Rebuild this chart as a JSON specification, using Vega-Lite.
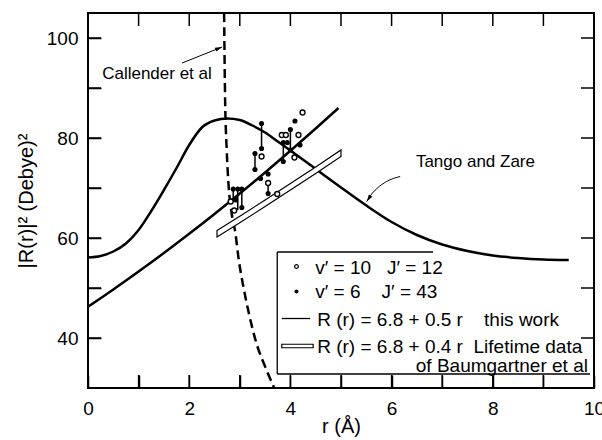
{
  "$schema": "https://vega.github.io/schema/vega-lite/v6.json",
  "width": 506,
  "height": 375,
  "autosize": "none",
  "padding": {"left": 88, "top": 13, "right": 8, "bottom": 52},
  "background": "white",
  "config": {
    "view": {"stroke": "black", "strokeWidth": 2},
    "axis": {
      "domain": false, "grid": false,
      "labelFont": "Liberation Sans", "labelFontSize": 19, "labelColor": "black",
      "titleFont": "Liberation Sans", "titleFontSize": 20, "titleFontWeight": "normal", "titleColor": "black"
    }
  },
  "datasets": {
    "callender": [
      {"r": 2.69, "v": 105}, {"r": 2.70, "v": 95}, {"r": 2.71, "v": 87.6}, {"r": 2.74, "v": 78},
      {"r": 2.78, "v": 70.3}, {"r": 2.83, "v": 65.5}, {"r": 2.91, "v": 61.2}, {"r": 2.98, "v": 55.6},
      {"r": 3.07, "v": 50.3}, {"r": 3.18, "v": 44.9}, {"r": 3.33, "v": 38.9}, {"r": 3.50, "v": 34.3},
      {"r": 3.68, "v": 30}
    ],
    "tango": [
      {"r": 0, "v": 56.1}, {"r": 0.25, "v": 56.4}, {"r": 0.5, "v": 57.3}, {"r": 0.75, "v": 58.9},
      {"r": 1.0, "v": 61.6}, {"r": 1.25, "v": 65.4}, {"r": 1.5, "v": 69.6}, {"r": 1.75, "v": 74.0},
      {"r": 2.0, "v": 78.6}, {"r": 2.25, "v": 82.1}, {"r": 2.5, "v": 83.5}, {"r": 2.75, "v": 83.9},
      {"r": 3.0, "v": 83.6}, {"r": 3.25, "v": 82.5}, {"r": 3.5, "v": 81.1}, {"r": 3.75, "v": 79.3},
      {"r": 4.0, "v": 77.5}, {"r": 4.5, "v": 73.8}, {"r": 5.0, "v": 70.1}, {"r": 5.5, "v": 66.5},
      {"r": 6.0, "v": 63.2}, {"r": 6.5, "v": 60.6}, {"r": 7.0, "v": 58.7}, {"r": 7.5, "v": 57.4},
      {"r": 8.0, "v": 56.5}, {"r": 8.5, "v": 56.0}, {"r": 9.0, "v": 55.7}, {"r": 9.5, "v": 55.6}
    ],
    "thiswork": [
      {"r": 0, "v": 46.24}, {"r": 0.5, "v": 49.70}, {"r": 1.0, "v": 53.29}, {"r": 1.5, "v": 57.00},
      {"r": 2.0, "v": 60.84}, {"r": 2.5, "v": 64.80}, {"r": 3.0, "v": 68.89}, {"r": 3.5, "v": 73.10},
      {"r": 4.0, "v": 77.44}, {"r": 4.5, "v": 81.90}, {"r": 4.95, "v": 86.0}
    ],
    "band": [
      {"r": 2.55, "lo": 60.2, "hi": 61.5}, {"r": 3.0, "lo": 63.05, "hi": 64.35},
      {"r": 3.5, "lo": 66.3, "hi": 67.6}, {"r": 4.0, "lo": 69.6, "hi": 70.9},
      {"r": 4.5, "lo": 72.9, "hi": 74.2}, {"r": 5.0, "lo": 76.3, "hi": 77.6}
    ],
    "segs": [
      {"r": 3.43, "v1": 82.9, "v2": 77.9}, {"r": 3.30, "v1": 76.9, "v2": 73.7},
      {"r": 4.0, "v1": 81.7, "v2": 77.6}, {"r": 3.86, "v1": 79.1, "v2": 75.3},
      {"r": 3.56, "v1": 71.0, "v2": 68.9}, {"r": 2.87, "v1": 69.8, "v2": 67.4},
      {"r": 2.96, "v1": 69.8, "v2": 65.6}, {"r": 3.04, "v1": 69.8, "v2": 66.1}
    ],
    "filled": [
      {"r": 4.09, "v": 83.4}, {"r": 4.0, "v": 81.7}, {"r": 4.0, "v": 77.6}, {"r": 3.43, "v": 82.9},
      {"r": 3.43, "v": 77.9}, {"r": 3.30, "v": 76.9}, {"r": 3.30, "v": 73.7}, {"r": 3.86, "v": 79.1},
      {"r": 3.86, "v": 75.3}, {"r": 3.94, "v": 79.1}, {"r": 4.19, "v": 78.6}, {"r": 3.41, "v": 71.9},
      {"r": 3.56, "v": 72.8}, {"r": 3.56, "v": 68.9}, {"r": 2.87, "v": 69.8}, {"r": 2.96, "v": 69.8},
      {"r": 3.04, "v": 69.8}, {"r": 2.92, "v": 67.6}, {"r": 3.04, "v": 66.1}
    ],
    "open": [
      {"r": 4.24, "v": 85.1}, {"r": 4.16, "v": 80.6}, {"r": 3.83, "v": 80.6}, {"r": 3.91, "v": 80.6},
      {"r": 4.08, "v": 76.1}, {"r": 3.43, "v": 76.3}, {"r": 3.56, "v": 71.0}, {"r": 3.74, "v": 68.8},
      {"r": 2.82, "v": 67.3}, {"r": 2.89, "v": 65.5}
    ],
    "xticks": [
      {"r": 1, "lo": 30, "hi": 32.6, "lo2": 105, "hi2": 102.4}, {"r": 2, "lo": 30, "hi": 32.6, "lo2": 105, "hi2": 102.4},
      {"r": 3, "lo": 30, "hi": 32.6, "lo2": 105, "hi2": 102.4}, {"r": 4, "lo": 30, "hi": 32.6, "lo2": 105, "hi2": 102.4},
      {"r": 5, "lo": 30, "hi": 32.6, "lo2": 105, "hi2": 102.4}, {"r": 6, "lo": 30, "hi": 32.6, "lo2": 105, "hi2": 102.4},
      {"r": 7, "lo": 30, "hi": 32.6, "lo2": 105, "hi2": 102.4}, {"r": 8, "lo": 30, "hi": 32.6, "lo2": 105, "hi2": 102.4},
      {"r": 9, "lo": 30, "hi": 32.6, "lo2": 105, "hi2": 102.4}
    ],
    "yticks": [
      {"v": 40, "a": 0, "b": 0.257, "a2": 10, "b2": 9.743}, {"v": 50, "a": 0, "b": 0.257, "a2": 10, "b2": 9.743},
      {"v": 60, "a": 0, "b": 0.257, "a2": 10, "b2": 9.743}, {"v": 70, "a": 0, "b": 0.257, "a2": 10, "b2": 9.743},
      {"v": 80, "a": 0, "b": 0.257, "a2": 10, "b2": 9.743}, {"v": 90, "a": 0, "b": 0.257, "a2": 10, "b2": 9.743},
      {"v": 100, "a": 0, "b": 0.257, "a2": 10, "b2": 9.743}
    ],
    "callArrow": [{"r": 1.86, "v": 95.0, "r2": 2.65, "v2": 98.2}],
    "callHead": [{"r": 2.65, "v": 98.2}],
    "tangoArrow": [
      {"r": 6.17, "v": 72.3}, {"r": 5.90, "v": 71.3}, {"r": 5.71, "v": 69.9}, {"r": 5.57, "v": 68.3}, {"r": 5.51, "v": 67.3}
    ],
    "tangoHead": [{"r": 5.51, "v": 67.3}],
    "annot": [
      {"r": 0.28, "v": 92.8, "t": "Callender et al"},
      {"r": 6.48, "v": 75.2, "t": "Tango and Zare"}
    ],
    "box": [
      {"x1": 3.74, "x2": 3.74, "y1": 32.8, "y2": 57.2},
      {"x1": 3.74, "x2": 6.82, "y1": 57.2, "y2": 57.2},
      {"x1": 3.74, "x2": 9.92, "y1": 32.8, "y2": 32.8}
    ],
    "legOpen": [{"r": 4.12, "v": 54.3}],
    "legFilled": [{"r": 4.12, "v": 49.3}],
    "legLine": [{"r": 3.83, "r2": 4.39, "v": 43.9}],
    "legBand": [{"r": 3.83, "r2": 4.45, "v": 38.05, "v2": 38.75}],
    "legText": [
      {"r": 4.49, "v": 54.0, "t": "v′ = 10\u00a0\u00a0 J′ = 12"},
      {"r": 4.49, "v": 49.2, "t": "v′ = 6\u00a0\u00a0\u00a0 J′ = 43"},
      {"r": 4.53, "v": 43.6, "t": "R (r) = 6.8 + 0.5 r\u00a0\u00a0\u00a0 this work"},
      {"r": 4.53, "v": 38.2, "t": "R (r) = 6.8 + 0.4 r\u00a0 Lifetime data"}
    ],
    "legText2": [{"r": 9.88, "v": 34.4, "t": "of Baumgartner et al"}]
  },
  "layer": [
    {
      "data": {"name": "callender"},
      "mark": {"type": "line", "color": "black", "strokeWidth": 2.5, "strokeDash": [9, 5], "clip": true, "interpolate": "monotone"},
      "encoding": {
        "x": {"field": "r", "type": "quantitative", "scale": {"domain": [0, 10], "nice": false, "zero": false},
          "axis": {"orient": "bottom", "values": [0,1,2,3,4,5,6,7,8,9,10], "labelExpr": "datum.value % 2 === 0 ? datum.label : ''",
            "ticks": true, "tickColor": "#000000", "tickOpacity": 1, "tickWidth": 1.5, "tickSize": 13, "offset": -13, "zindex": 2,
            "title": "r (Å)", "labelPadding": 11, "labelFlush": false, "titlePadding": -2}},
        "y": {"field": "v", "type": "quantitative", "scale": {"domain": [30, 105], "nice": false, "zero": false},
          "axis": {"orient": "left", "values": [40,50,60,70,80,90,100], "labelExpr": "datum.value % 20 === 0 ? datum.label : ''",
            "ticks": true, "tickColor": "#000000", "tickOpacity": 1, "tickWidth": 1.5, "tickSize": 13, "offset": -13, "zindex": 2,
            "title": "|R(r)|² (Debye)²", "labelPadding": 10, "titlePadding": 10}}
      }
    },
    {
      "data": {"name": "xticks"},
      "mark": {"type": "rule", "color": "black", "strokeWidth": 1.5},
      "encoding": {
        "x": {"field": "r", "type": "quantitative"},
        "y": {"field": "lo", "type": "quantitative"},
        "y2": {"field": "hi"}
      }
    },
    {
      "data": {"name": "xticks"},
      "mark": {"type": "rule", "color": "black", "strokeWidth": 1.5},
      "encoding": {
        "x": {"field": "r", "type": "quantitative"},
        "y": {"field": "lo2", "type": "quantitative"},
        "y2": {"field": "hi2"}
      }
    },
    {
      "data": {"name": "yticks"},
      "mark": {"type": "rule", "color": "black", "strokeWidth": 1.5},
      "encoding": {
        "y": {"field": "v", "type": "quantitative"},
        "x": {"field": "a", "type": "quantitative"},
        "x2": {"field": "b"}
      }
    },
    {
      "data": {"name": "yticks"},
      "mark": {"type": "rule", "color": "black", "strokeWidth": 1.5},
      "encoding": {
        "y": {"field": "v", "type": "quantitative"},
        "x": {"field": "a2", "type": "quantitative"},
        "x2": {"field": "b2"}
      }
    },
    {
      "data": {"name": "tango"},
      "mark": {"type": "line", "color": "black", "strokeWidth": 2.5, "interpolate": "monotone", "clip": true},
      "encoding": {
        "x": {"field": "r", "type": "quantitative"},
        "y": {"field": "v", "type": "quantitative"}
      }
    },
    {
      "data": {"name": "band"},
      "mark": {"type": "area", "fill": "white", "stroke": "black", "strokeWidth": 1.2, "clip": true},
      "encoding": {
        "x": {"field": "r", "type": "quantitative"},
        "y": {"field": "hi", "type": "quantitative"},
        "y2": {"field": "lo"}
      }
    },
    {
      "data": {"name": "thiswork"},
      "mark": {"type": "line", "color": "black", "strokeWidth": 2.5, "interpolate": "monotone", "clip": true},
      "encoding": {
        "x": {"field": "r", "type": "quantitative"},
        "y": {"field": "v", "type": "quantitative"}
      }
    },
    {
      "data": {"name": "segs"},
      "mark": {"type": "rule", "color": "black", "strokeWidth": 1.5},
      "encoding": {
        "x": {"field": "r", "type": "quantitative"},
        "y": {"field": "v1", "type": "quantitative"},
        "y2": {"field": "v2"}
      }
    },
    {
      "data": {"name": "filled"},
      "mark": {"type": "point", "shape": "circle", "filled": true, "color": "black", "size": 26, "opacity": 1},
      "encoding": {
        "x": {"field": "r", "type": "quantitative"},
        "y": {"field": "v", "type": "quantitative"}
      }
    },
    {
      "data": {"name": "open"},
      "mark": {"type": "point", "shape": "circle", "filled": false, "fill": "white", "stroke": "black", "strokeWidth": 1.4, "size": 24, "opacity": 1, "fillOpacity": 1},
      "encoding": {
        "x": {"field": "r", "type": "quantitative"},
        "y": {"field": "v", "type": "quantitative"}
      }
    },
    {
      "data": {"name": "callArrow"},
      "mark": {"type": "rule", "color": "black", "strokeWidth": 1},
      "encoding": {
        "x": {"field": "r", "type": "quantitative"},
        "y": {"field": "v", "type": "quantitative"},
        "x2": {"field": "r2"}, "y2": {"field": "v2"}
      }
    },
    {
      "data": {"name": "callHead"},
      "mark": {"type": "point", "shape": "M0,0L-1,-0.3L-1,0.3Z", "filled": true, "color": "black", "size": 200, "angle": -22, "opacity": 1},
      "encoding": {
        "x": {"field": "r", "type": "quantitative"},
        "y": {"field": "v", "type": "quantitative"}
      }
    },
    {
      "data": {"name": "tangoArrow"},
      "mark": {"type": "line", "color": "black", "strokeWidth": 1, "interpolate": "monotone"},
      "encoding": {
        "x": {"field": "r", "type": "quantitative"},
        "y": {"field": "v", "type": "quantitative"}
      }
    },
    {
      "data": {"name": "tangoHead"},
      "mark": {"type": "point", "shape": "M0,0L-1,-0.3L-1,0.3Z", "filled": true, "color": "black", "size": 200, "angle": 123, "opacity": 1},
      "encoding": {
        "x": {"field": "r", "type": "quantitative"},
        "y": {"field": "v", "type": "quantitative"}
      }
    },
    {
      "data": {"name": "annot"},
      "mark": {"type": "text", "align": "left", "baseline": "middle", "font": "Liberation Sans", "fontSize": 17, "color": "black"},
      "encoding": {
        "x": {"field": "r", "type": "quantitative"},
        "y": {"field": "v", "type": "quantitative"},
        "text": {"field": "t"}
      }
    },
    {
      "data": {"name": "box"},
      "mark": {"type": "rule", "color": "black", "strokeWidth": 1.3},
      "encoding": {
        "x": {"field": "x1", "type": "quantitative"},
        "x2": {"field": "x2"},
        "y": {"field": "y1", "type": "quantitative"},
        "y2": {"field": "y2"}
      }
    },
    {
      "data": {"name": "legOpen"},
      "mark": {"type": "point", "shape": "circle", "filled": false, "fill": "white", "stroke": "black", "strokeWidth": 1.2, "size": 14, "opacity": 1},
      "encoding": {
        "x": {"field": "r", "type": "quantitative"},
        "y": {"field": "v", "type": "quantitative"}
      }
    },
    {
      "data": {"name": "legFilled"},
      "mark": {"type": "point", "shape": "circle", "filled": true, "color": "black", "size": 16, "opacity": 1},
      "encoding": {
        "x": {"field": "r", "type": "quantitative"},
        "y": {"field": "v", "type": "quantitative"}
      }
    },
    {
      "data": {"name": "legLine"},
      "mark": {"type": "rule", "color": "black", "strokeWidth": 1.3},
      "encoding": {
        "x": {"field": "r", "type": "quantitative"},
        "x2": {"field": "r2"},
        "y": {"field": "v", "type": "quantitative"}
      }
    },
    {
      "data": {"name": "legBand"},
      "mark": {"type": "rect", "fill": "white", "stroke": "black", "strokeWidth": 1.2},
      "encoding": {
        "x": {"field": "r", "type": "quantitative"},
        "x2": {"field": "r2"},
        "y": {"field": "v", "type": "quantitative"},
        "y2": {"field": "v2"}
      }
    },
    {
      "data": {"name": "legText"},
      "mark": {"type": "text", "align": "left", "baseline": "middle", "font": "Liberation Sans", "fontSize": 19, "color": "black"},
      "encoding": {
        "x": {"field": "r", "type": "quantitative"},
        "y": {"field": "v", "type": "quantitative"},
        "text": {"field": "t"}
      }
    },
    {
      "data": {"name": "legText2"},
      "mark": {"type": "text", "align": "right", "baseline": "middle", "font": "Liberation Sans", "fontSize": 19, "color": "black"},
      "encoding": {
        "x": {"field": "r", "type": "quantitative"},
        "y": {"field": "v", "type": "quantitative"},
        "text": {"field": "t"}
      }
    }
  ]
}
